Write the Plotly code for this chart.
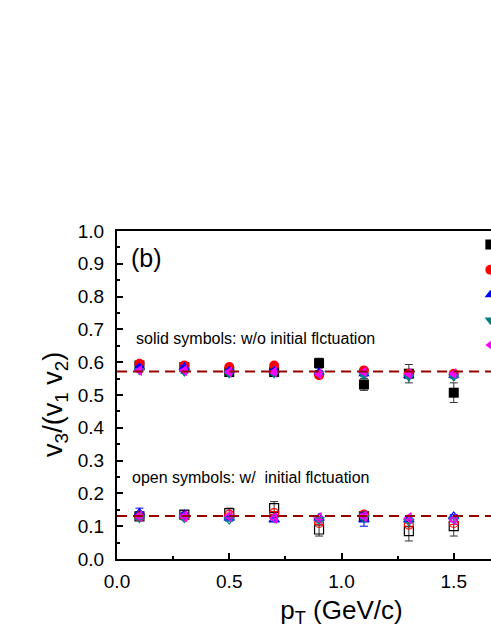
import plotly.graph_objects as go

# ── data ──────────────────────────────────────────────────────
pt = [0.1, 0.3, 0.5, 0.7, 0.9, 1.1, 1.3, 1.5]

names = ["set 1", "set 2", "set 3", "set 4", "set 5"]
colors = ["#000000", "#ff0000", "#0000ff", "#008080", "#ff00ff"]
symbols = ["square", "circle", "triangle-up", "triangle-down", "triangle-left"]

# solid symbols: w/o initial fluctuation
solid = [
    [0.590, 0.585, 0.570, 0.570, 0.597, 0.532, 0.565, 0.507],
    [0.595, 0.590, 0.585, 0.590, 0.560, 0.575, 0.565, 0.565],
    [0.585, 0.585, 0.575, 0.575, 0.570, 0.565, 0.560, 0.560],
    [0.575, 0.570, 0.565, 0.565, 0.565, 0.560, 0.555, 0.555],
    [0.575, 0.575, 0.570, 0.570, 0.565, 0.570, 0.565, 0.565],
]
solid_err = [
    [0.008, 0.008, 0.010, 0.010, 0.015, 0.018, 0.028, 0.030],
    [0.004] * 8, [0.004] * 8, [0.004] * 8, [0.004] * 8,
]

# open symbols: w/ initial fluctuation
opened = [
    [0.130, 0.135, 0.140, 0.155, 0.090, 0.130, 0.085, 0.100],
    [0.130, 0.130, 0.135, 0.140, 0.110, 0.135, 0.105, 0.110],
    [0.140, 0.135, 0.125, 0.120, 0.125, 0.120, 0.120, 0.130],
    [0.125, 0.125, 0.120, 0.125, 0.120, 0.125, 0.115, 0.120],
    [0.130, 0.130, 0.130, 0.125, 0.125, 0.130, 0.125, 0.120],
]
open_err = [
    [0.010, 0.012, 0.015, 0.020, 0.020, 0.012, 0.030, 0.030],
    [0.005] * 8, [0.015, 0.005, 0.005, 0.005, 0.005, 0.020, 0.005, 0.005],
    [0.005] * 8, [0.005] * 8,
]

fit_solid = 0.572
fit_open = 0.131

FONT = "Arial, Liberation Sans, sans-serif"

fig = go.Figure()

for i in range(5):
    fig.add_trace(go.Scatter(
        x=pt, y=opened[i], mode="markers", showlegend=False,
        marker=dict(symbol=symbols[i] + "-open", size=9, color=colors[i],
                    line=dict(width=1.2, color=colors[i])),
        error_y=dict(type="data", array=open_err[i], color="#333333" if i == 0 else colors[i],
                     thickness=1, width=4),
    ))

for i in range(5):
    fig.add_trace(go.Scatter(
        x=pt, y=solid[i], mode="markers", name=names[i],
        marker=dict(symbol=symbols[i], size=10, color=colors[i], line=dict(width=0)),
        error_y=dict(type="data", array=solid_err[i], color="#333333" if i == 0 else colors[i],
                     thickness=1, width=4),
    ))

for yv in (fit_solid, fit_open):
    fig.add_shape(type="line", xref="paper", x0=0, x1=1, yref="y", y0=yv, y1=yv,
                  line=dict(color="#990000", width=2, dash="10px,6px"), layer="above")

fig.add_annotation(x=0.052, y=0.918, text="(b)", showarrow=False, xanchor="left",
                   font=dict(size=25, color="black"))
fig.add_annotation(x=0.075, y=0.671, text="solid symbols: w/o initial flctuation",
                   showarrow=False, xanchor="left", font=dict(size=16, color="black"))
fig.add_annotation(x=0.058, y=0.25, text="open symbols: w/&nbsp; initial flctuation",
                   showarrow=False, xanchor="left", font=dict(size=16, color="black"))
# y-axis title placed by hand (Origin puts it slightly below the axis centre)
fig.add_annotation(xref="paper", yref="paper", x=-0.138, y=0.47, textangle=-90,
                   text="v<sub>3</sub>/(v<sub>1</sub> v<sub>2</sub>)", showarrow=False,
                   xanchor="center", yanchor="middle", font=dict(size=27, color="black"))

fig.update_layout(
    width=600, height=635,
    paper_bgcolor="white", plot_bgcolor="white",
    font=dict(family=FONT, color="black", size=18),
    margin=dict(l=117, r=34, t=231, b=76),
    legend=dict(x=0.787, y=1.012, xanchor="left", yanchor="top",
                bgcolor="rgba(0,0,0,0)", font=dict(size=17), tracegroupgap=0),
    xaxis=dict(range=[0, 2.0], dtick=0.5, tickformat=".1f",
               showline=True, linecolor="black", linewidth=2, mirror=True,
               ticks="inside", ticklen=6, tickwidth=1.5, tickcolor="black",
               minor=dict(ticks="inside", ticklen=3, dtick=0.25, tickcolor="black"),
               showgrid=False, zeroline=False, ticklabelstandoff=4,
               tickfont=dict(size=19),
               title=dict(text="p<sub>T</sub> (GeV/c)", font=dict(size=26), standoff=10)),
    yaxis=dict(range=[0, 1.0], dtick=0.1, tickformat=".1f",
               showline=True, linecolor="black", linewidth=2, mirror=True,
               ticks="inside", ticklen=6, tickwidth=1.5, tickcolor="black",
               minor=dict(ticks="inside", ticklen=3, dtick=0.05, tickcolor="black"),
               showgrid=False, zeroline=False, ticklabelstandoff=7,
               tickfont=dict(size=19)),
)

fig.write_html("out.html", config={"displayModeBar": False},
               post_script="document.body.style.margin='0';document.body.style.overflow='hidden';")
